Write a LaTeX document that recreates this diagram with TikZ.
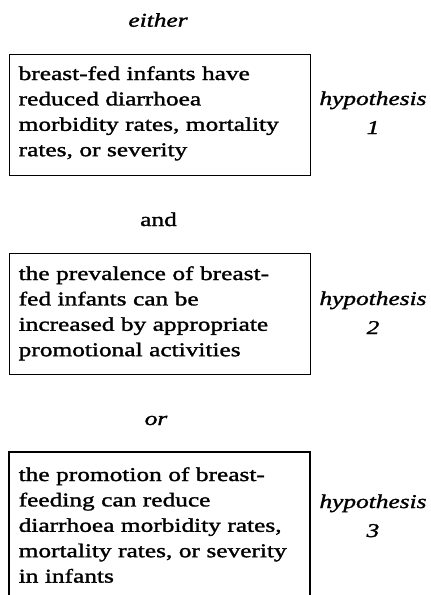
\documentclass[tikz,border=0pt]{standalone}
\usepackage{fontspec}
\setmainfont[FakeStretch=1.3,FakeBold=1.5]{Liberation Serif}
\begin{document}
\begin{tikzpicture}[x=1pt,y=-1pt]
\tikzset{
  boxtext/.style={anchor=base west, inner sep=0pt, align=left, text width=285pt,
    font=\fontsize{19.5}{25.4}\selectfont},
  hyp/.style={anchor=base, inner sep=0pt, align=center,
    font=\fontsize{19.5}{29}\selectfont\itshape},
  conj/.style={anchor=base, inner sep=0pt, font=\fontsize{19.5}{25}\selectfont},
  frame/.style={draw, line width=1.1pt, inner sep=0pt, anchor=north west}
}
\useasboundingbox (0,0) rectangle (431,595);

\node[conj] (either) at (158,26.7) {\itshape either};
\node[frame, minimum width=301pt, minimum height=121pt] (box1) at (9,54) {};
\node[boxtext] (t1) at (18.5,80) {breast-fed infants have\\reduced diarrhoea\\morbidity rates, mortality\\rates, or severity};
\node[hyp] (h1) at (373,134) {hypothesis\\1};

\node[conj] (and) at (158.5,226) {and};
\node[frame, minimum width=301pt, minimum height=121pt] (box2) at (9,253) {};
\node[boxtext] (t2) at (18.5,280) {the prevalence of breast-\\fed infants can be\\increased by appropriate\\promotional activities};
\node[hyp] (h2) at (373,334) {hypothesis\\2};

\node[conj] (or) at (156,425) {\itshape or};
\coordinate (b3bl) at (9,597);
\coordinate (b3tl) at (9,452);
\coordinate (b3tr) at (310,452);
\coordinate (b3br) at (310,597);
\draw[line width=1.1pt] (b3bl) -- (b3tl) -- (b3tr) -- (b3br);
\node[boxtext] (t3) at (18.5,481) {the promotion of breast-\\feeding can reduce\\diarrhoea morbidity rates,\\mortality rates, or severity\\in infants};
\node[hyp] (h3) at (373,537) {hypothesis\\3};
\end{tikzpicture}
\end{document}
